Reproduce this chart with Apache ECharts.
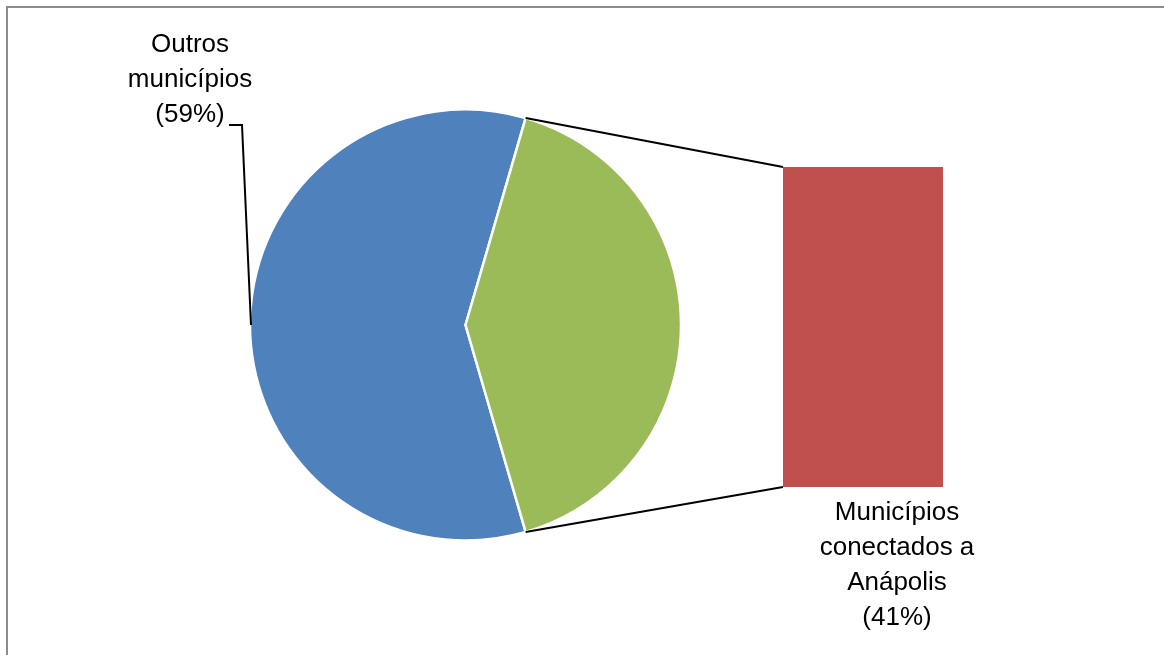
<!DOCTYPE html>
<html>
<head>
<meta charset="utf-8">
<script src="https://cdn.jsdelivr.net/npm/echarts@6/dist/echarts.min.js"></script>
<style>
  html, body { margin: 0; padding: 0; background: #fff; overflow: hidden; }
  #frame { position: absolute; left: 6px; top: 6px; width: 1200px; height: 700px; border: 2px solid #8c8c8c; box-sizing: border-box; }
  #chart { position: absolute; left: 0; top: 0; width: 1164px; height: 655px; }
</style>
</head>
<body>
<div id="frame"></div>
<div id="chart"></div>
<script>
const categories = ['Outros municípios', 'Municípios conectados a Anápolis'];
const values = [59, 41];
const labelTexts = ['Outros\nmunicípios\n(59%)', 'Municípios\nconectados a\nAnápolis\n(41%)'];
const colors = ['#4F81BD', '#9BBB59', '#C0504D'];

const total = values[0] + values[1];
const greenDeg = values[1] / total * 360;
const startAngle = 360 - greenDeg / 2; // blue starts here, runs clockwise; green centered at 0°
const CX = 465.5, CY = 325, R = 215.5;
const FONT = 'Liberation Sans';

const chart = echarts.init(document.getElementById('chart'), null, { renderer: 'canvas' });

const option = {
  animation: false,
  grid: { left: 783, top: 167, width: 160, height: 320 },
  xAxis: { type: 'category', data: [categories[1]], show: false },
  yAxis: { type: 'value', min: 0, max: values[1], show: false },
  series: [
    {
      type: 'pie',
      center: [CX, CY],
      radius: R,
      startAngle: startAngle,
      clockwise: true,
      silent: true,
      itemStyle: { borderColor: '#ffffff', borderWidth: 2.5 },
      data: [
        { name: categories[0], value: values[0], itemStyle: { color: colors[0] },
          label: { show: true, formatter: labelTexts[0] } },
        { name: categories[1], value: values[1], itemStyle: { color: colors[1] },
          label: { show: false } }
      ],
      label: {
        position: 'outside', fontFamily: FONT, fontSize: 26, lineHeight: 35,
        color: '#000', align: 'center'
      },
      labelLine: { show: false },
      labelLayout: function (p) {
        if (p.dataIndex === 0) return { x: 190, y: 80, align: 'center', verticalAlign: 'middle' };
      }
    },
    {
      type: 'bar',
      barWidth: '100%',
      silent: true,
      data: [{ value: values[1], itemStyle: { color: colors[2] } }],
      label: {
        show: true, position: 'bottom', distance: 8, offset: [34, 0],
        formatter: labelTexts[1], fontFamily: FONT, fontSize: 26, lineHeight: 35,
        color: '#000', align: 'center'
      }
    }
  ]
};
chart.setOption(option);

// connector lines computed from pie geometry and bar corners
const a1 = (greenDeg / 2) * Math.PI / 180;
const pTop = [CX + R * Math.cos(a1), CY - R * Math.sin(a1)];
const pBot = [CX + R * Math.cos(a1), CY + R * Math.sin(a1)];
const barTopLeft = chart.convertToPixel({ gridIndex: 0 }, [0, values[1]]);
const barBotLeft = chart.convertToPixel({ gridIndex: 0 }, [0, 0]);
const barLeftX = barTopLeft[0] - 80;
// leader for blue label: from pie edge at mid-angle of blue slice
const blueMid = Math.PI; // 180°
const pBlue = [CX + R * Math.cos(blueMid), CY - R * Math.sin(blueMid)];

chart.setOption({
  graphic: [
    { type: 'line', z: 100, shape: { x1: pTop[0], y1: pTop[1], x2: barLeftX, y2: barTopLeft[1] },
      style: { stroke: '#000', lineWidth: 2 }, silent: true },
    { type: 'line', z: 100, shape: { x1: pBot[0], y1: pBot[1], x2: barLeftX, y2: barBotLeft[1] },
      style: { stroke: '#000', lineWidth: 2 }, silent: true },
    { type: 'polyline', z: 100, shape: { points: [[pBlue[0] + 1, pBlue[1]], [242, 125], [229, 125]] },
      style: { stroke: '#000', lineWidth: 2, fill: null }, silent: true }
  ]
});
</script>
</body>
</html>
